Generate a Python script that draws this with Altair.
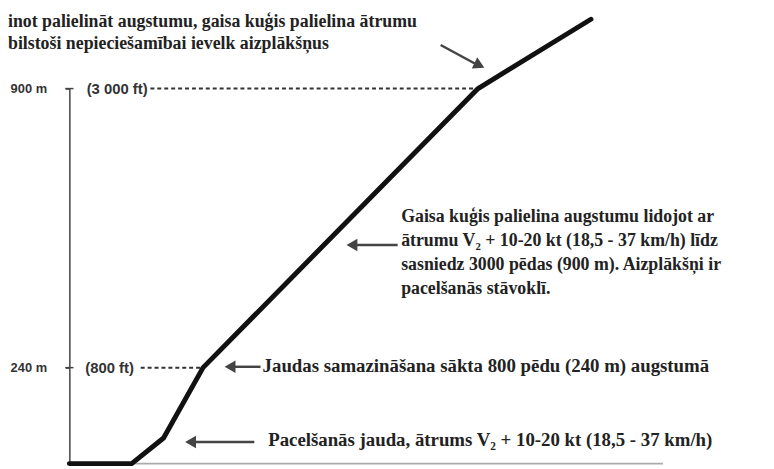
import altair as alt
import pandas as pd

# ---- take-off profile (schematic horizontal distance, altitude in metres)
profile_dist = [0, 9, 13.6, 19.3, 59, 75.3]
profile_alt = [0, 0, 64, 240, 900, 1064]

# ---- reference altitudes
ref_alt = [240, 900]
ref_ft = ["(800 ft)", "(3 000 ft)"]
ref_ft_at = [2.3, 2.5]
ref_dot_from = [10.3, 11.7]
ref_dot_to = [18.9, 58.6]
tick_from, tick_to = -0.6, 0.6

# ---- ground line
ground_from, ground_to = 0, 85.7

# ---- annotation texts
top_note = [
    "inot palielināt augstumu, gaisa kuģis palielina ātrumu",
    "bilstoši nepieciešamībai ievelk aizplākšņus",
]
mid_note = [
    "Gaisa kuģis palielina augstumu lidojot ar",
    "ātrumu V₂ + 10-20 kt (18,5 - 37 km/h) līdz",
    "sasniedz 3000 pēdas (900 m). Aizplākšņi ir",
    "pacelšanās stāvoklī.",
]
cut_note = "Jaudas samazināšana sākta 800 pēdu (240 m) augstumā"
lift_note = "Pacelšanās jauda, ātrums V₂ + 10-20 kt (18,5 - 37 km/h)"

top_at = (-8.86, 1045)
mid_at = (47.9, 584)
single_text = [cut_note, lift_note]
single_dist = [27.9, 28.7]
single_alt = [228, 44]

# ---- arrows (tail -> head)
arrow_from_dist = [53.6, 47.4, 27.6, 26.7]
arrow_to_dist = [58.8, 41.2, 23.6, 17.9]
arrow_from_alt = [1003, 530, 242, 54]
arrow_to_alt = [957, 530, 242, 54]
head_dist = [59.2, 40.8, 23.2, 17.5]
head_alt = [955, 530, 242, 54]
head_angle = [26, 180, 180, 180]

SERIF = "Liberation Serif"

# ---- scales
xs = alt.Scale(domain=[0, 100], nice=False, zero=False)
ys = alt.Scale(domain=[0, 240, 900], range=[401, 304, 22], nice=False, zero=False)

profile = pd.DataFrame({"d": profile_dist, "a": profile_alt})
refs = pd.DataFrame({"a": ref_alt, "ft": ref_ft, "fx": ref_ft_at,
                     "d0": ref_dot_from, "d1": ref_dot_to,
                     "t0": [tick_from] * 2, "t1": [tick_to] * 2})
ground = pd.DataFrame({"d0": [ground_from], "d1": [ground_to], "a": [0]})
top_df = pd.DataFrame({"d": [top_at[0]], "a": [top_at[1]], "t": ["\n".join(top_note)]})
mid_df = pd.DataFrame({"d": [mid_at[0]], "a": [mid_at[1]], "t": ["\n".join(mid_note)]})
single_df = pd.DataFrame({"d": single_dist, "a": single_alt, "t": single_text})
arrows = pd.DataFrame({"d0": arrow_from_dist, "d1": arrow_to_dist,
                       "a0": arrow_from_alt, "a1": arrow_to_alt})
heads = pd.DataFrame({"d": head_dist, "a": head_alt, "ang": head_angle})

# axis layer (vertical altitude axis)
axis_layer = alt.Chart(refs).mark_rule(strokeWidth=1.5, color="#444").encode(
    x=alt.X("t0:Q", scale=xs, axis=None),
    x2="t1:Q",
    y=alt.Y("a:Q", scale=ys, axis=alt.Axis(
        values=ref_alt, labelExpr="datum.value + ' m'", title=None, grid=False,
        ticks=True, tickSize=4, tickColor="#444", tickWidth=1.5,
        domainColor="#444", domainWidth=1.5,
        labelFont="Liberation Sans", labelFontSize=13, labelFontWeight="bold",
        labelColor="#333", labelPadding=19)),
)

ground_layer = alt.Chart(ground).mark_rule(strokeWidth=2, color="#aaaaaa").encode(
    x=alt.X("d0:Q", scale=xs), x2="d1:Q", y=alt.Y("a:Q", scale=ys))

dots = alt.Chart(refs).mark_rule(strokeWidth=2, color="#333", strokeDash=[4, 3]).encode(
    x=alt.X("d0:Q", scale=xs), x2="d1:Q", y=alt.Y("a:Q", scale=ys))

ft_labels = alt.Chart(refs).mark_text(
    align="left", baseline="middle", font="Liberation Sans", fontSize=15,
    fontWeight="bold", color="#333").encode(
    x=alt.X("fx:Q", scale=xs), y=alt.Y("a:Q", scale=ys), text="ft:N")

line = alt.Chart(profile).mark_line(
    color="#111", strokeWidth=5, strokeCap="round", strokeJoin="round").encode(
    x=alt.X("d:Q", scale=xs), y=alt.Y("a:Q", scale=ys), order="d:Q")

arrow_lines = alt.Chart(arrows).mark_rule(strokeWidth=2.5, color="#444").encode(
    x=alt.X("d0:Q", scale=xs), x2="d1:Q",
    y=alt.Y("a0:Q", scale=ys), y2="a1:Q")

arrow_heads = alt.Chart(heads).mark_point(
    shape="triangle-right", filled=True, size=160, color="#444", opacity=1).encode(
    x=alt.X("d:Q", scale=xs), y=alt.Y("a:Q", scale=ys),
    angle=alt.Angle("ang:Q", scale=None))

text_style = dict(align="left", baseline="alphabetic", font=SERIF,
                  fontWeight="bold", color="#222", lineBreak="\n")

top_text = alt.Chart(top_df).mark_text(lineHeight=22, fontSize=18, **text_style).encode(
    x=alt.X("d:Q", scale=xs), y=alt.Y("a:Q", scale=ys), text="t:N")
mid_text = alt.Chart(mid_df).mark_text(lineHeight=24.3, fontSize=18, **text_style).encode(
    x=alt.X("d:Q", scale=xs), y=alt.Y("a:Q", scale=ys), text="t:N")
single_txt = alt.Chart(single_df).mark_text(fontSize=19, **text_style).encode(
    x=alt.X("d:Q", scale=xs), y=alt.Y("a:Q", scale=ys), text="t:N")

chart = alt.layer(
    axis_layer, ground_layer, dots, ft_labels, line, arrow_lines, arrow_heads,
    top_text, mid_text, single_txt,
).properties(
    width=700, height=401,
    autosize=alt.AutoSizeParams(type="none"),
    padding={"left": 62, "top": 57, "right": 4, "bottom": 3},
    background="white",
).configure_view(strokeWidth=0)

chart.save("out.html", embed_options={"renderer": "svg", "actions": False})
